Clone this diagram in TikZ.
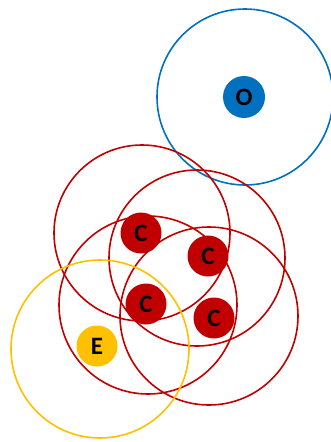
\documentclass[tikz,border=0pt]{standalone}
\usepackage{fontspec}
\setmainfont{Carlito}
\definecolor{customblue}{HTML}{0070C0}
\definecolor{customred}{HTML}{C00000}
\definecolor{customyellow}{HTML}{FFC000}
\begin{document}
\begin{tikzpicture}[x=1pt, y=-1pt]
  \tikzset{
    blue_node/.style={circle, fill=customblue, inner sep=0pt, minimum size=42pt, font=\fontsize{25}{25}\selectfont\bfseries},
    red_node/.style={circle, fill=customred, inner sep=0pt, minimum size=41pt, font=\fontsize{25}{25}\selectfont\bfseries},
    yellow_node/.style={circle, fill=customyellow, inner sep=0pt, minimum size=41pt, font=\fontsize{25}{25}\selectfont\bfseries},
    blue_ring/.style={draw=customblue, line width=1.6pt},
    red_ring/.style={draw=customred, line width=1.6pt},
    yellow_ring/.style={draw=customyellow, line width=1.6pt}
  }

  % Bounding box del lienzo
  \useasboundingbox (0,0) rectangle (331,442);

  % Alcances (circunferencias)
  \draw[blue_ring] (245,97) circle (88);
  \draw[red_ring] (142,233) circle (88);
  \draw[red_ring] (197,258) circle (88);
  \draw[red_ring] (148,305) circle (89);
  \draw[red_ring] (209,316) circle (89);
  \draw[yellow_ring] (100,349) circle (89);

  % Nodos
  \node[blue_node] (o) at (244,97) {O};
  \node[red_node] (c1) at (141,233) {C};
  \node[red_node] (c2) at (208,256) {C};
  \node[red_node] (c3) at (146,304) {C};
  \node[red_node] (c4) at (214,318) {C};
  \node[yellow_node] (e) at (97,346) {E};
\end{tikzpicture}
\end{document}
